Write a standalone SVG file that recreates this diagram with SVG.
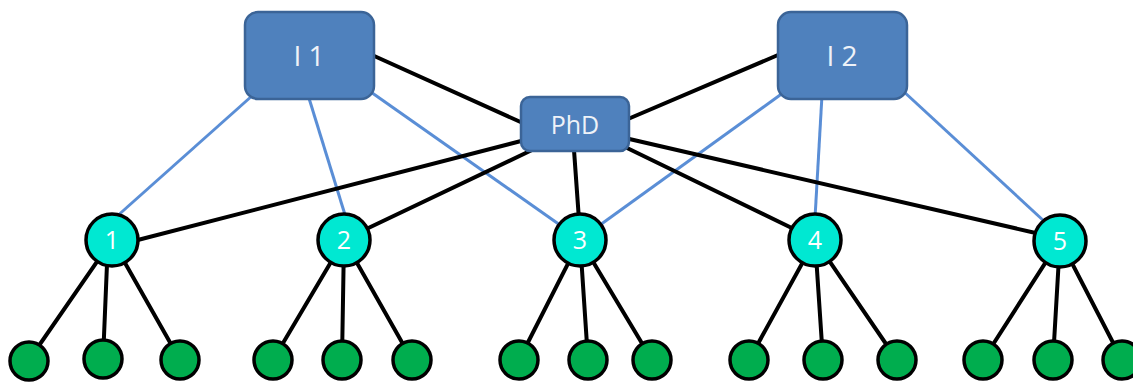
<svg xmlns="http://www.w3.org/2000/svg" width="1133" height="384" viewBox="0 0 1133 384">
<style>
.box{fill:#4F81BD;stroke:#3B6497;stroke-width:2.5}
.blab{fill:#EEF2F8;font-family:"Open Sans","Liberation Sans",sans-serif;font-size:28px;text-anchor:middle}
.k{stroke:#000;stroke-width:4;fill:none;stroke-linecap:round}
.b{stroke:#5A8ED6;stroke-width:3;fill:none}
.n{fill:#00E8D2;stroke:#000;stroke-width:3.5}
.nlab{fill:#FFFFFF;font-family:"Open Sans","Liberation Sans",sans-serif;font-size:25px;text-anchor:middle}
.leaf{fill:#00AD4E;stroke:#000;stroke-width:3.5}
</style>
<rect width="1133" height="384" fill="#FFFFFF"/>
<g id="connectors">
<line class="b" x1="253" y1="95" x2="115" y2="218"/>
<line class="b" x1="308" y1="95" x2="346" y2="218"/>
<line class="b" x1="368" y1="90" x2="560" y2="225"/>
<line class="b" x1="787" y1="90" x2="600" y2="225"/>
<line class="b" x1="822" y1="95" x2="815" y2="218"/>
<line class="b" x1="902" y1="90" x2="1045" y2="222"/>
<line class="k" x1="372" y1="55" x2="525" y2="124"/>
<line class="k" x1="778" y1="55" x2="628" y2="119"/>
<line class="k" x1="525" y1="140" x2="130" y2="242"/>
<line class="k" x1="532" y1="150" x2="360" y2="232"/>
<line class="k" x1="574" y1="150" x2="579" y2="220"/>
<line class="k" x1="625" y1="147" x2="800" y2="232"/>
<line class="k" x1="625" y1="138" x2="1040" y2="234"/>
<line class="k" x1="112" y1="240" x2="29" y2="360"/>
<line class="k" x1="108" y1="240" x2="103" y2="360"/>
<line class="k" x1="112" y1="240" x2="180" y2="360"/>
<line class="k" x1="344" y1="240" x2="273" y2="360"/>
<line class="k" x1="344" y1="240" x2="342" y2="360"/>
<line class="k" x1="344" y1="240" x2="412" y2="360"/>
<line class="k" x1="580" y1="240" x2="519" y2="360"/>
<line class="k" x1="580" y1="240" x2="588" y2="360"/>
<line class="k" x1="580" y1="240" x2="652" y2="360"/>
<line class="k" x1="815" y1="240" x2="749" y2="360"/>
<line class="k" x1="815" y1="240" x2="823" y2="360"/>
<line class="k" x1="815" y1="240" x2="897" y2="360"/>
<line class="k" x1="1060" y1="240" x2="983" y2="360"/>
<line class="k" x1="1060" y1="240" x2="1053" y2="360"/>
<line class="k" x1="1060" y1="240" x2="1122" y2="360"/>
</g>
<g id="I1"><rect class="box" x="245" y="12" width="129" height="87" rx="13"/><text class="blab" x="309" y="66">I 1</text></g>
<g id="I2"><rect class="box" x="778" y="12" width="129" height="87" rx="13"/><text class="blab" x="842" y="66">I 2</text></g>
<g id="PhD"><rect class="box" x="521" y="97" width="108" height="54" rx="9"/><text class="blab" x="575" y="134" style="font-size:25px">PhD</text></g>
<g id="n1"><circle class="n" cx="112" cy="240" r="26"/><text class="nlab" x="112" y="249">1</text></g>
<g id="n2"><circle class="n" cx="344" cy="240" r="26"/><text class="nlab" x="344" y="249">2</text></g>
<g id="n3"><circle class="n" cx="580" cy="240" r="26"/><text class="nlab" x="580" y="249">3</text></g>
<g id="n4"><circle class="n" cx="815" cy="240" r="26"/><text class="nlab" x="815" y="249">4</text></g>
<g id="n5"><circle class="n" cx="1060" cy="241" r="26"/><text class="nlab" x="1060" y="250">5</text></g>
<g id="leaves">
<g id="l1a"><circle class="leaf" cx="29" cy="361" r="19"/></g>
<g id="l1b"><circle class="leaf" cx="103" cy="359" r="19"/></g>
<g id="l1c"><circle class="leaf" cx="180" cy="360" r="19"/></g>
<g id="l2a"><circle class="leaf" cx="273" cy="360" r="19"/></g>
<g id="l2b"><circle class="leaf" cx="342" cy="360" r="19"/></g>
<g id="l2c"><circle class="leaf" cx="412" cy="360" r="19"/></g>
<g id="l3a"><circle class="leaf" cx="519" cy="360" r="19"/></g>
<g id="l3b"><circle class="leaf" cx="588" cy="360" r="19"/></g>
<g id="l3c"><circle class="leaf" cx="652" cy="360" r="19"/></g>
<g id="l4a"><circle class="leaf" cx="749" cy="360" r="19"/></g>
<g id="l4b"><circle class="leaf" cx="823" cy="360" r="19"/></g>
<g id="l4c"><circle class="leaf" cx="897" cy="360" r="19"/></g>
<g id="l5a"><circle class="leaf" cx="983" cy="360" r="19"/></g>
<g id="l5b"><circle class="leaf" cx="1053" cy="360" r="19"/></g>
<g id="l5c"><circle class="leaf" cx="1122" cy="360" r="19"/></g>
</g>
</svg>
